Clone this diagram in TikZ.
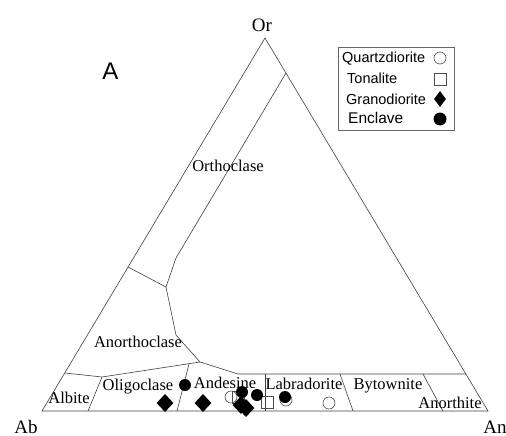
\documentclass[tikz,border=0pt]{standalone}
\usepackage{fontspec}
\setmainfont{Liberation Serif}
\setsansfont{Liberation Sans}
\usetikzlibrary{shapes.geometric}

\begin{document}
\begin{tikzpicture}[x=1pt,y=-1pt,
    field/.style={draw=black!75,line width=0.6pt},
    lab/.style={font=\fontsize{16.5}{18}\selectfont,inner sep=0pt,anchor=base},
    apex/.style={font=\fontsize{19}{21}\selectfont,inner sep=0pt,anchor=base},
    leg/.style={font=\sffamily\fontsize{14.5}{16}\selectfont,inner sep=0pt,anchor=base west},
    qd/.style={circle,draw=black!70,line width=0.6pt,minimum size=12pt,inner sep=0pt},
    ton/.style={rectangle,draw=black!70,line width=0.6pt,minimum size=12pt,inner sep=0pt},
    gd/.style={diamond,fill=black,minimum width=17pt,minimum height=18pt,inner sep=0pt},
    enc/.style={circle,fill=black,minimum size=12pt,inner sep=0pt}]
    \useasboundingbox (0,0) rectangle (506,436);

    % triangle corners
    \coordinate (Ab) at (42,411);
    \coordinate (An) at (488,411);
    \coordinate (Or) at (265,38);
    \draw [field] (Ab) -- (An) -- (Or) -- cycle;

    % field boundaries
    \coordinate (orA) at (286,73);
    \coordinate (orB) at (176,258);
    \coordinate (orC) at (166,287);
    \coordinate (lfA) at (128,267);
    \coordinate (anD) at (176,335);
    \coordinate (anE) at (200,362);
    \coordinate (lsA) at (65,373);
    \coordinate (alB) at (102,377);
    \coordinate (alC) at (88,411);
    \coordinate (olB) at (189,364);
    \coordinate (olC) at (177,411);
    \coordinate (adB) at (238,374);
    \coordinate (rsA) at (466,374);
    \draw [field] (orA) -- (orB) -- (orC) -- (anD) -- (anE) -- (adB) -- (rsA);
    \draw [field] (lfA) -- (orC);
    \draw [field] (lsA) -- (alB) -- (anE);
    \draw [field] (alB) -- (alC);
    \draw [field] (olB) -- (olC);
    \draw [field] (265,374) -- (265,411);
    \draw [field] (340,374) -- (353,411);
    \draw [field] (423,374) -- (443,411);

    \node [apex] (tOr) at (262,32) {Or};
    \node [apex] (tAb) at (26,433) {Ab};
    \node [apex] (tAn) at (495,433) {An};
    \node [font=\sffamily\fontsize{24}{26}\selectfont,inner sep=0pt,anchor=base] (tA) at (110.5,80) {A};

    \node [lab] (tOrth) at (228,171) {Orthoclase};
    \node [lab] (tAnor) at (138,347) {Anorthoclase};
    \node [lab] (tAlb) at (69,403) {Albite};
    \node [lab] (tOlig) at (138,390) {Oligoclase};
    \node [lab] (tAnd) at (225,388) {Andesine};
    \node [lab] (tLab) at (304,389) {Labradorite};
    \node [lab] (tByt) at (388,389) {Bytownite};
    \node [lab] (tAnt) at (450,408) {Anorthite};

    % samples
    \node [ton] (s1) at (238,397) {};
    \node [qd] (q1) at (231,397) {};
    \node [qd] (q2) at (286,400) {};
    \node [qd] (q3) at (329,403) {};
    \node [ton] (s2) at (267,402) {};
    \node [enc] (e1) at (185,385) {};
    \node [enc] (e2) at (242,392) {};
    \node [enc] (e3) at (257,395) {};
    \node [enc] (e4) at (285,397) {};
    \node [gd] (g1) at (165,403) {};
    \node [gd] (g2) at (203,403) {};
    \node [gd] (g3) at (241,405) {};
    \node [gd] (g4) at (246,408) {};

    % legend
    \draw [draw=black!60,line width=0.6pt] (338,47) rectangle (454,130);
    \node [leg] (lQd) at (342,63) {Quartzdiorite};
    \node [leg] (lTo) at (347,83) {Tonalite};
    \node [leg] (lGd) at (346,104) {Granodiorite};
    \node [leg,font=\sffamily\fontsize{15.5}{17}\selectfont] (lEn) at (348,123) {Enclave};
    \node [qd] (mQd) at (440,58) {};
    \node [ton] (mTo) at (440,79) {};
    \node [gd,minimum width=12pt,minimum height=16pt] (mGd) at (440,99) {};
    \node [enc,minimum size=13pt] (mEn) at (440,119) {};

  \end{tikzpicture}
\end{document}
